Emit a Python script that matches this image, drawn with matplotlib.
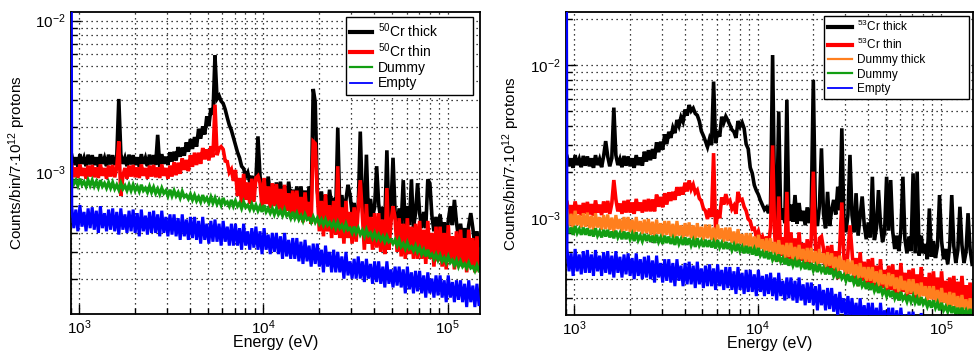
import numpy as np
import matplotlib
matplotlib.use("Agg")
import matplotlib.pyplot as plt
from matplotlib.ticker import LogLocator, NullFormatter

plt.rcParams['font.family'] = ['Liberation Sans', 'DejaVu Sans']
plt.rcParams['mathtext.fontset'] = 'custom'
plt.rcParams['mathtext.rm'] = 'Liberation Sans'
plt.rcParams['mathtext.it'] = 'Liberation Sans:italic'
plt.rcParams['mathtext.bf'] = 'Liberation Sans:bold'

# ---------------- data: counts/bin/7e12 protons, in units of 1e-3 ----------------
# 200 log-spaced bins between E_MIN and E_MAX (eV)
E_MIN, E_MAX = 900.0, 150000.0
EMPTY_UNDERFLOW = 1000.0   # huge underflow bin of "Empty" -> vertical line at left edge

# Left panel: 50Cr
cr50_thick = [
 1.30,1.12,1.26,1.09,1.32,1.14,1.25,1.10,1.31,1.13,1.30,1.12,1.26,1.09,1.32,1.14,1.25,1.10,1.31,1.13,
 1.30,1.12,1.26,3.05,1.32,1.14,1.25,1.10,1.31,1.13,1.30,1.12,1.26,1.09,1.32,1.14,1.25,1.10,1.31,1.13,
 1.30,1.12,1.77,1.09,1.32,1.14,1.27,1.12,1.36,1.18,1.37,1.20,1.47,1.27,1.46,1.29,1.58,1.37,1.66,1.43,
 1.71,1.48,1.94,1.67,2.01,1.78,2.34,2.02,2.65,2.40,5.90,3.05,3.20,2.95,2.85,2.60,2.30,2.05,1.90,1.70,
 1.52,1.36,1.25,1.10,1.06,0.94,1.00,0.86,0.95,0.82,0.90,1.73,0.95,0.73,0.87,0.70,0.94,0.72,0.83,0.66,
 0.86,0.69,0.87,0.67,0.81,0.65,0.87,0.67,0.77,0.62,0.81,0.64,0.81,0.62,0.76,0.60,0.81,0.62,3.55,2.90,
 0.76,0.59,0.75,0.58,0.71,0.56,0.77,0.59,0.68,0.54,1.97,0.56,0.71,0.55,0.66,0.83,0.71,0.54,0.63,0.50,
 0.58,1.86,0.66,0.51,1.31,0.49,0.67,0.51,0.59,1.10,0.62,0.49,0.59,0.47,1.40,0.48,0.59,1.25,0.55,0.45,
 0.58,0.46,0.89,0.44,0.60,0.45,0.90,0.43,0.54,0.85,0.54,0.43,0.55,0.43,0.90,0.85,0.52,0.41,0.51,0.40,
 0.53,0.40,0.47,0.37,0.48,0.60,0.45,0.66,0.47,0.37,0.46,0.36,0.43,0.34,0.45,0.54,0.43,0.33,0.41,0.33]
cr50_thin = [
 1.12,0.93,1.08,0.92,1.13,0.95,1.07,0.91,1.11,0.94,1.12,0.93,1.08,0.92,1.13,0.95,1.07,0.91,1.11,0.94,
 1.12,0.93,1.08,1.60,0.70,0.95,1.07,0.91,1.11,0.94,1.12,0.93,1.08,0.92,1.13,0.95,1.07,0.91,1.11,0.94,
 1.12,0.93,1.08,0.92,1.13,0.95,1.07,0.91,1.11,0.94,1.17,0.96,1.16,0.98,1.24,1.04,1.21,1.02,1.30,1.09,
 1.35,1.12,1.35,1.14,1.45,1.22,1.42,1.20,1.49,1.26,2.80,1.30,1.44,1.48,1.42,1.19,1.18,1.00,1.05,0.88,
 1.04,0.70,0.92,0.62,0.98,0.66,0.86,0.62,0.91,0.64,0.92,0.95,0.85,0.58,0.92,0.62,0.81,0.58,0.85,0.60,
 0.84,0.57,0.78,0.53,0.83,0.56,0.73,0.52,0.76,0.53,0.76,0.51,0.69,0.47,0.74,0.50,0.64,0.46,1.60,1.55,
 0.73,0.41,0.65,0.38,0.72,0.41,0.61,0.37,0.65,0.39,1.10,0.37,0.59,0.34,0.65,0.37,0.55,0.34,0.59,0.35,
 0.59,0.89,0.53,0.31,0.62,0.34,0.51,0.31,0.54,0.32,0.54,0.30,0.49,0.29,0.79,0.31,0.47,0.60,0.50,0.30,
 0.50,0.28,0.46,0.27,0.50,0.29,0.44,0.27,0.46,0.27,0.48,0.27,0.42,0.25,0.48,0.27,0.40,0.24,0.44,0.26,
 0.44,0.24,0.40,0.23,0.45,0.26,0.38,0.23,0.41,0.24,0.42,0.24,0.37,0.22,0.42,0.24,0.37,0.22,0.38,0.23]
dummy_L = [
 0.91,0.84,0.89,0.82,0.91,0.83,0.87,0.81,0.89,0.82,0.89,0.81,0.87,0.80,0.89,0.81,0.85,0.79,0.86,0.79,
 0.86,0.78,0.83,0.77,0.85,0.78,0.82,0.76,0.83,0.76,0.83,0.76,0.81,0.75,0.83,0.76,0.79,0.74,0.81,0.74,
 0.80,0.73,0.78,0.72,0.79,0.73,0.76,0.70,0.77,0.70,0.76,0.70,0.74,0.68,0.75,0.69,0.71,0.67,0.72,0.66,
 0.71,0.65,0.69,0.64,0.71,0.65,0.68,0.63,0.69,0.63,0.68,0.62,0.66,0.61,0.68,0.62,0.64,0.60,0.66,0.60,
 0.65,0.60,0.63,0.58,0.64,0.59,0.61,0.57,0.62,0.57,0.61,0.56,0.60,0.55,0.61,0.55,0.58,0.54,0.58,0.53,
 0.58,0.53,0.56,0.52,0.57,0.52,0.54,0.50,0.55,0.50,0.54,0.49,0.52,0.48,0.53,0.49,0.50,0.47,0.51,0.47,
 0.50,0.46,0.49,0.45,0.49,0.45,0.47,0.44,0.47,0.43,0.47,0.43,0.45,0.42,0.46,0.42,0.43,0.40,0.44,0.40,
 0.43,0.39,0.415,0.38,0.42,0.385,0.40,0.37,0.40,0.365,0.39,0.36,0.38,0.35,0.38,0.35,0.36,0.34,0.36,0.33,
 0.36,0.325,0.34,0.315,0.345,0.315,0.325,0.305,0.33,0.30,0.32,0.29,0.31,0.28,0.31,0.28,0.29,0.27,0.29,0.265,
 0.285,0.26,0.275,0.255,0.28,0.255,0.265,0.245,0.265,0.24,0.26,0.24,0.25,0.235,0.255,0.235,0.24,0.225,0.245,0.225]
empty_L = [
 0.60,0.43,0.57,0.41,0.61,0.44,0.55,0.41,0.58,0.43,0.59,0.42,0.56,0.40,0.60,0.43,0.54,0.41,0.57,0.42,
 0.58,0.41,0.55,0.39,0.58,0.42,0.53,0.40,0.56,0.41,0.57,0.40,0.54,0.38,0.57,0.41,0.52,0.39,0.55,0.40,
 0.56,0.40,0.53,0.38,0.56,0.40,0.51,0.38,0.53,0.39,0.53,0.38,0.50,0.36,0.53,0.38,0.49,0.36,0.51,0.37,
 0.51,0.36,0.48,0.34,0.51,0.36,0.46,0.34,0.48,0.35,0.49,0.35,0.46,0.33,0.48,0.35,0.44,0.33,0.46,0.33,
 0.46,0.33,0.43,0.31,0.46,0.33,0.41,0.31,0.43,0.32,0.44,0.31,0.41,0.29,0.43,0.31,0.39,0.29,0.40,0.30,
 0.40,0.29,0.38,0.27,0.40,0.28,0.36,0.27,0.37,0.27,0.37,0.26,0.35,0.25,0.36,0.26,0.33,0.24,0.34,0.25,
 0.34,0.24,0.31,0.22,0.33,0.24,0.30,0.22,0.31,0.22,0.30,0.22,0.28,0.20,0.30,0.21,0.26,0.20,0.27,0.20,
 0.28,0.20,0.26,0.19,0.27,0.20,0.25,0.185,0.26,0.19,0.26,0.185,0.24,0.175,0.26,0.185,0.23,0.175,0.24,0.18,
 0.24,0.175,0.23,0.16,0.24,0.17,0.22,0.16,0.225,0.165,0.225,0.16,0.21,0.15,0.22,0.16,0.20,0.15,0.21,0.155,
 0.21,0.15,0.195,0.14,0.21,0.15,0.19,0.14,0.195,0.145,0.195,0.14,0.185,0.13,0.195,0.14,0.18,0.13,0.185,0.135]

# Right panel: 53Cr
cr53_thick = [
 2.54,2.19,2.47,2.14,2.59,2.23,2.44,2.16,2.56,2.21,2.54,2.19,2.47,2.14,2.59,2.23,2.44,2.16,2.56,3.20,
 2.54,2.19,2.47,5.30,2.59,2.23,2.44,2.16,2.56,2.21,2.54,2.19,2.47,2.14,2.59,2.23,2.50,2.21,2.73,2.35,
 2.79,2.40,2.84,2.46,3.14,2.71,3.17,2.81,3.54,3.06,3.68,3.36,3.91,3.61,4.40,4.03,4.59,4.28,5.15,4.70,
 5.51,5.04,5.25,4.85,4.72,4.32,3.72,3.47,3.20,2.93,3.31,3.02,7.85,3.10,3.71,3.42,4.62,4.22,4.64,4.37,
 4.08,3.80,3.68,3.36,4.33,3.99,4.24,3.88,3.06,2.85,2.15,1.97,1.65,1.52,1.43,1.31,1.22,1.14,1.18,1.08,
 1.25,11.7,1.19,0.95,5.00,0.98,1.16,0.93,5.96,0.96,1.23,0.95,1.42,0.92,1.26,0.96,1.12,0.90,1.18,0.93,
 1.19,8.05,1.11,0.89,1.20,2.87,1.07,0.86,1.49,0.89,1.13,1.32,1.06,1.61,1.13,3.88,1.01,0.81,1.05,2.60,
 1.05,0.81,1.46,0.77,1.04,1.39,0.91,0.73,0.94,0.75,1.87,0.72,0.86,1.53,0.92,0.70,0.81,1.87,0.83,1.78,
 0.82,0.63,0.77,0.61,0.83,1.87,0.73,0.59,0.76,0.61,1.97,0.59,2.02,0.57,0.77,0.59,0.68,0.54,1.16,0.56,
 0.71,0.55,0.66,1.42,0.71,0.54,0.63,0.50,0.66,1.42,0.66,0.51,0.62,1.19,0.67,0.51,0.60,1.08,0.63,0.50]
cr53_thin = [
 1.27,1.05,1.22,1.02,1.29,1.07,1.22,1.04,1.26,1.07,1.28,1.06,1.24,1.04,1.31,1.09,1.23,1.05,1.29,1.09,
 1.30,1.07,1.25,1.78,1.33,1.11,1.25,1.07,1.30,1.09,1.32,1.09,1.27,1.07,1.34,1.12,1.27,1.09,1.32,1.11,
 1.34,1.11,1.33,1.11,1.43,1.19,1.38,1.18,1.46,1.23,1.48,1.30,1.49,1.32,1.60,1.41,1.60,1.43,1.71,1.50,
 1.77,1.55,1.66,1.47,1.53,1.35,1.30,1.16,1.12,0.99,1.16,1.02,2.67,0.82,1.13,1.00,1.37,1.23,1.44,1.27,
 1.31,1.15,1.21,1.07,1.49,1.31,1.33,1.19,1.12,0.99,0.96,0.85,0.86,0.76,0.82,0.72,0.76,0.68,0.76,0.67,
 0.87,3.00,0.79,0.52,1.39,0.57,0.75,0.52,1.49,0.54,0.81,0.52,0.74,0.49,0.81,0.53,0.69,0.48,0.73,0.50,
 0.74,2.02,0.68,0.45,0.74,0.76,0.63,0.44,0.66,0.45,0.67,0.43,0.61,0.40,0.67,1.27,0.57,0.40,0.60,0.90,
 0.61,0.39,0.55,0.36,0.60,0.39,0.52,0.36,0.54,0.37,0.55,0.35,0.49,0.33,0.54,0.35,0.46,0.32,0.49,0.34,
 0.50,0.32,0.46,0.30,0.51,0.33,0.44,0.30,0.46,0.32,0.47,0.30,0.43,0.29,0.48,0.32,0.41,0.29,0.44,0.30,
 0.45,0.29,0.41,0.27,0.45,0.29,0.39,0.27,0.41,0.28,0.42,0.27,0.385,0.255,0.42,0.28,0.365,0.255,0.38,0.26]
dummy_thick_R = [
 1.12,0.89,1.07,0.86,1.12,0.90,1.05,0.87,1.08,0.88,1.09,0.86,1.04,0.84,1.08,0.87,1.02,0.84,1.05,0.85,
 1.06,0.84,1.01,0.81,1.05,0.85,0.99,0.81,1.02,0.83,1.02,0.81,0.98,0.79,1.02,0.82,0.96,0.79,0.98,0.80,
 0.99,0.78,0.95,0.76,0.98,0.79,0.93,0.76,0.96,0.78,0.96,0.76,0.92,0.74,0.96,0.77,0.90,0.74,0.93,0.76,
 0.94,0.74,0.90,0.72,0.93,0.75,0.88,0.72,0.91,0.74,0.91,0.72,0.87,0.70,0.91,0.73,0.86,0.70,0.87,0.71,
 0.87,0.69,0.82,0.66,0.85,0.68,0.79,0.65,0.80,0.65,0.80,0.63,0.76,0.61,0.78,0.63,0.73,0.60,0.74,0.60,
 0.74,0.59,0.70,0.57,0.72,0.58,0.67,0.55,0.69,0.56,0.69,0.54,0.65,0.53,0.67,0.54,0.63,0.52,0.64,0.52,
 0.64,0.51,0.61,0.49,0.63,0.51,0.59,0.48,0.60,0.49,0.59,0.47,0.56,0.45,0.57,0.46,0.53,0.43,0.54,0.43,
 0.53,0.42,0.50,0.40,0.51,0.41,0.48,0.39,0.48,0.39,0.48,0.38,0.45,0.36,0.46,0.37,0.43,0.35,0.44,0.36,
 0.43,0.345,0.41,0.33,0.42,0.34,0.39,0.32,0.40,0.325,0.40,0.315,0.375,0.30,0.38,0.31,0.36,0.29,0.36,0.295,
 0.36,0.285,0.34,0.275,0.35,0.28,0.325,0.265,0.33,0.265,0.325,0.26,0.31,0.25,0.315,0.255,0.295,0.24,0.30,0.245]
dummy_R = [
 0.89,0.80,0.87,0.78,0.89,0.80,0.85,0.78,0.87,0.78,0.86,0.77,0.84,0.76,0.86,0.77,0.82,0.75,0.84,0.76,
 0.84,0.75,0.82,0.74,0.83,0.75,0.80,0.73,0.82,0.73,0.81,0.73,0.79,0.71,0.81,0.72,0.77,0.71,0.79,0.71,
 0.78,0.70,0.77,0.69,0.78,0.70,0.75,0.68,0.77,0.69,0.76,0.68,0.74,0.67,0.76,0.68,0.73,0.67,0.75,0.67,
 0.74,0.665,0.72,0.65,0.74,0.665,0.71,0.65,0.725,0.65,0.72,0.645,0.70,0.635,0.72,0.645,0.69,0.63,0.70,0.63,
 0.69,0.62,0.67,0.61,0.68,0.61,0.65,0.59,0.66,0.59,0.65,0.58,0.63,0.57,0.64,0.57,0.60,0.55,0.61,0.54,
 0.60,0.535,0.57,0.52,0.58,0.52,0.55,0.50,0.55,0.49,0.54,0.49,0.53,0.48,0.535,0.48,0.51,0.465,0.515,0.46,
 0.51,0.455,0.49,0.445,0.50,0.45,0.475,0.43,0.48,0.43,0.47,0.42,0.45,0.405,0.45,0.405,0.425,0.39,0.43,0.385,
 0.42,0.375,0.40,0.36,0.405,0.36,0.38,0.345,0.38,0.34,0.375,0.335,0.36,0.325,0.36,0.32,0.34,0.31,0.34,0.305,
 0.335,0.30,0.325,0.29,0.33,0.295,0.31,0.285,0.315,0.285,0.31,0.28,0.30,0.27,0.305,0.275,0.29,0.265,0.29,0.26,
 0.29,0.26,0.28,0.25,0.28,0.25,0.265,0.245,0.27,0.24,0.265,0.235,0.26,0.23,0.26,0.235,0.25,0.23,0.255,0.23]
empty_R = [
 0.63,0.45,0.59,0.42,0.63,0.45,0.58,0.43,0.61,0.44,0.62,0.44,0.58,0.42,0.62,0.45,0.57,0.42,0.60,0.44,
 0.61,0.43,0.57,0.41,0.61,0.44,0.56,0.41,0.58,0.43,0.59,0.42,0.55,0.40,0.59,0.42,0.54,0.40,0.56,0.41,
 0.57,0.40,0.53,0.38,0.57,0.41,0.51,0.38,0.54,0.39,0.54,0.38,0.51,0.36,0.54,0.39,0.49,0.36,0.51,0.37,
 0.52,0.37,0.49,0.35,0.52,0.37,0.47,0.35,0.49,0.36,0.50,0.36,0.47,0.34,0.50,0.36,0.46,0.34,0.48,0.35,
 0.48,0.34,0.45,0.32,0.48,0.34,0.44,0.32,0.46,0.33,0.46,0.33,0.43,0.31,0.46,0.33,0.42,0.31,0.43,0.32,
 0.44,0.31,0.41,0.29,0.44,0.31,0.39,0.29,0.41,0.30,0.41,0.29,0.39,0.28,0.41,0.29,0.37,0.27,0.38,0.28,
 0.38,0.27,0.36,0.25,0.37,0.27,0.34,0.25,0.35,0.255,0.35,0.245,0.32,0.23,0.33,0.24,0.30,0.22,0.31,0.225,
 0.30,0.215,0.28,0.20,0.30,0.21,0.27,0.20,0.28,0.205,0.28,0.20,0.26,0.19,0.28,0.20,0.25,0.19,0.26,0.19,
 0.26,0.19,0.25,0.18,0.26,0.19,0.235,0.175,0.245,0.18,0.245,0.175,0.23,0.16,0.24,0.17,0.215,0.16,0.225,0.165,
 0.225,0.16,0.21,0.15,0.22,0.16,0.20,0.15,0.21,0.155,0.21,0.15,0.20,0.14,0.21,0.15,0.19,0.14,0.20,0.145]

labels_L = [r'$^{50}$Cr thick', r'$^{50}$Cr thin', 'Dummy', 'Empty']
labels_R = [r'$^{53}$Cr thick', r'$^{53}$Cr thin', 'Dummy thick', 'Dummy', 'Empty']
ylabel = r'Counts/bin/7$\cdot$10$^{12}$ protons'
xlabel = 'Energy (eV)'

# ---------------- styling ----------------
C_BLACK, C_RED, C_ORANGE, C_GREEN, C_BLUE = 'black', '#ff0000', '#ff7f1e', '#129e12', '#0000ff'


def centers_for(n):
    edges = np.geomspace(E_MIN, E_MAX, n + 1)
    return np.sqrt(edges[:-1] * edges[1:])


def draw(ax, values, underflow=None, **kw):
    x = centers_for(len(values))
    y = np.asarray(values, dtype=float) * 1e-3
    if underflow is not None:
        x = np.concatenate([[E_MIN], x])
        y = np.concatenate([[underflow * 1e-3], y])
    return ax.plot(x, y, solid_joinstyle='miter', **kw)


fig = plt.figure(figsize=(9.74, 3.53), dpi=100)
axL = fig.add_axes([0.0726, 0.1105, 0.4202, 0.8555])
axR = fig.add_axes([0.5811, 0.1076, 0.418, 0.8594])


def style(ax, ylim):
    ax.set_xscale('log')
    ax.set_yscale('log')
    ax.set_xlim(E_MIN, E_MAX)
    ax.set_ylim(*ylim)
    ax.xaxis.set_major_locator(LogLocator(base=10, numticks=10))
    ax.xaxis.set_minor_locator(LogLocator(base=10, subs=np.arange(2, 10), numticks=20))
    ax.yaxis.set_minor_locator(LogLocator(base=10, subs=np.arange(2, 10), numticks=20))
    ax.xaxis.set_minor_formatter(NullFormatter())
    ax.yaxis.set_minor_formatter(NullFormatter())
    ax.grid(True, which='both', color='black', linestyle=(0, (1, 3)), linewidth=0.9)
    ax.set_axisbelow(True)
    ax.tick_params(which='both', direction='in', top=False, right=False, labelsize=11)
    ax.tick_params(which='major', length=7, width=1)
    ax.tick_params(which='minor', length=4, width=1)
    ax.tick_params(axis='x', which='major', pad=3)
    for s in ax.spines.values():
        s.set_linewidth(1.3)
    ax.set_xlabel(xlabel, fontsize=11.5, labelpad=-1)
    ax.set_ylabel(ylabel, fontsize=11)


# Left panel
draw(axL, cr50_thick, color=C_BLACK, lw=2.6, label=labels_L[0], zorder=2.0)
draw(axL, cr50_thin, color=C_RED, lw=2.6, label=labels_L[1], zorder=2.1)
draw(axL, dummy_L, color=C_GREEN, lw=2.3, label=labels_L[2], zorder=2.2)
draw(axL, empty_L, underflow=EMPTY_UNDERFLOW, color=C_BLUE, lw=2.2, label=labels_L[3], zorder=2.6)
style(axL, (1.17e-4, 1.14e-2))
axL.yaxis.set_label_coords(-0.105, 0.5)
legL = axL.legend(loc='upper left', bbox_to_anchor=(0.672, 0.736, 0.311, 0.248), mode='expand',
                  fontsize=10, frameon=True, fancybox=False, framealpha=1, edgecolor='black',
                  borderpad=0.3, labelspacing=0.1, handlelength=1.6, handletextpad=0.4,
                  borderaxespad=0)
legL.get_frame().set_linewidth(1.0)
for ln, w in zip(legL.get_lines(), [3.0, 3.0, 1.6, 1.3]):
    ln.set_linewidth(w)

# Right panel
draw(axR, cr53_thick, color=C_BLACK, lw=2.6, label=labels_R[0], zorder=2.0)
draw(axR, cr53_thin, color=C_RED, lw=2.6, label=labels_R[1], zorder=2.1)
draw(axR, dummy_thick_R, color=C_ORANGE, lw=2.3, label=labels_R[2], zorder=2.15)
draw(axR, dummy_R, color=C_GREEN, lw=2.3, label=labels_R[3], zorder=2.2)
draw(axR, empty_R, underflow=EMPTY_UNDERFLOW, color=C_BLUE, lw=2.2, label=labels_R[4], zorder=2.6)
style(axR, (2.33e-4, 2.25e-2))
axR.yaxis.set_label_coords(-0.108, 0.5)
legR = axR.legend(loc='upper left', bbox_to_anchor=(0.634, 0.712, 0.356, 0.275), mode='expand',
                  fontsize=8.5, frameon=True, fancybox=False, framealpha=1, edgecolor='black',
                  borderpad=0.3, labelspacing=0.2, handlelength=2.1, handletextpad=0.4,
                  borderaxespad=0)
legR.get_frame().set_linewidth(1.0)
for ln, w in zip(legR.get_lines(), [3.0, 3.0, 1.6, 1.6, 1.3]):
    ln.set_linewidth(w)

fig.savefig('out.png', dpi=100)
